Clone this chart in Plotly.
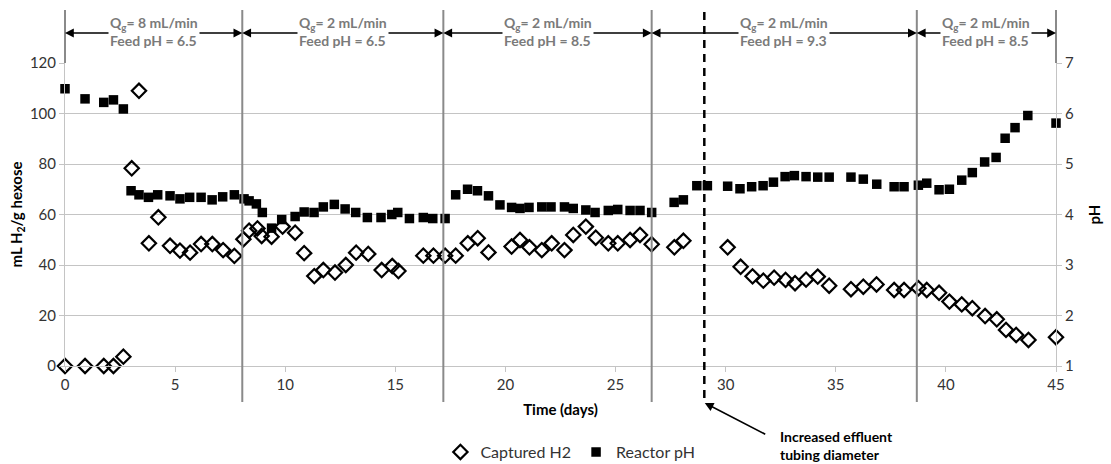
import plotly.graph_objects as go

# ---- data ----
h2_time = [0, 0.91, 1.76, 2.2, 2.65, 3.03, 3.36, 3.81, 4.24, 4.77, 5.22, 5.68, 6.18, 6.69, 7.18, 7.69,
           8.1, 8.36, 8.74, 8.93, 9.38, 9.88, 10.45, 10.86, 11.32, 11.73, 12.26, 12.75, 13.22, 13.77,
           14.38, 14.86, 15.14, 16.27, 16.73, 17.26, 17.74, 18.29, 18.74, 19.23, 20.28, 20.66, 21.09,
           21.65, 22.1, 22.68, 23.08, 23.65, 24.1, 24.67, 25.1, 25.66, 26.11, 26.64, 27.67, 28.08,
           30.09, 30.68, 31.22, 31.71, 32.2, 32.72, 33.15, 33.65, 34.18, 34.7, 35.69, 36.25, 36.85,
           37.65, 38.1, 38.75, 39.13, 39.69, 40.16, 40.72, 41.2, 41.78, 42.31, 42.73, 43.19, 43.75, 45.0]
h2_value = [0, 0, 0, 0, 3.7, 78.3, 109, 48.6, 58.9, 47.6, 45.7, 44.9, 48.3, 48.3, 45.9, 43.6,
            50.2, 53.6, 54.5, 51.5, 51.2, 55.2, 52.8, 44.7, 35.6, 38.0, 37.0, 40.0, 44.9, 44.4,
            38.0, 39.6, 37.6, 43.7, 43.7, 43.7, 43.7, 48.6, 50.6, 45.0, 47.3, 49.9, 47.0,
            45.9, 48.6, 45.9, 51.9, 55.2, 50.8, 48.6, 48.6, 49.9, 51.9, 48.2, 47.0, 49.6,
            47.0, 39.3, 35.5, 33.8, 35.0, 34.1, 32.8, 34.2, 35.4, 31.8, 30.4, 31.4, 32.3,
            30.1, 30.1, 30.8, 30.1, 29.0, 25.5, 24.4, 22.9, 19.8, 18.5, 14.3, 12.3, 10.3, 11.4]

ph_time = [0, 0.91, 1.76, 2.2, 2.65, 3.0, 3.36, 3.79, 4.21, 4.77, 5.22, 5.66, 6.18, 6.68, 7.16, 7.69,
           8.13, 8.36, 8.69, 8.96, 9.38, 9.84, 10.45, 10.86, 11.31, 11.73, 12.23, 12.72, 13.2, 13.73,
           14.35, 14.84, 15.11, 15.64, 16.27, 16.7, 17.26, 17.74, 18.28, 18.73, 19.23, 19.75, 20.28,
           20.66, 21.07, 21.65, 22.07, 22.68, 23.08, 23.65, 24.07, 24.67, 25.1, 25.66, 26.11, 26.64,
           27.66, 28.08, 28.69, 29.17, 30.09, 30.65, 31.18, 31.7, 32.17, 32.7, 33.12, 33.65, 34.18,
           34.7, 35.69, 36.25, 36.86, 37.65, 38.1, 38.75, 39.13, 39.69, 40.16, 40.72, 41.2, 41.76,
           42.28, 42.69, 43.14, 43.72, 45.0]
ph_value = [6.49, 6.29, 6.22, 6.27, 6.09, 4.47, 4.39, 4.34, 4.39, 4.37, 4.31, 4.34, 4.34, 4.29, 4.35, 4.39,
            4.31, 4.27, 4.21, 4.04, 3.73, 3.9, 3.96, 4.05, 4.04, 4.15, 4.2, 4.11, 4.04, 3.94,
            3.94, 4.0, 4.04, 3.92, 3.94, 3.92, 3.92, 4.39, 4.5, 4.47, 4.37, 4.19, 4.14,
            4.12, 4.14, 4.15, 4.15, 4.15, 4.12, 4.09, 4.04, 4.08, 4.1, 4.08, 4.08, 4.04,
            4.24, 4.29, 4.57, 4.57, 4.56, 4.51, 4.55, 4.57, 4.64, 4.75, 4.77, 4.75, 4.74,
            4.74, 4.74, 4.7, 4.6, 4.55, 4.55, 4.58, 4.62, 4.49, 4.5, 4.68, 4.83, 5.04,
            5.13, 5.51, 5.72, 5.96, 5.81]

period_bounds = [0, 8.05, 17.18, 26.64, 38.68, 45]
period_labels = ["Q<sub>g</sub>= 8 mL/min<br>Feed pH = 6.5",
                 "Q<sub>g</sub>= 2 mL/min<br>Feed pH = 6.5",
                 "Q<sub>g</sub>= 2 mL/min<br>Feed pH = 8.5",
                 "Q<sub>g</sub>= 2 mL/min<br>Feed pH = 9.3",
                 "Q<sub>g</sub>= 2 mL/min<br>Feed pH = 8.5"]
tubing_change_day = 29.03

FONT = "Lato"
GRID = "#c4c4c4"
LINEGRAY = "#8a8a8a"

fig = go.Figure()
fig.add_trace(go.Scatter(
    x=h2_time, y=h2_value, mode="markers", name="Captured H2",
    marker=dict(symbol="diamond-open", size=11, color="black", line=dict(width=2.2, color="black")),
    cliponaxis=False))
fig.add_trace(go.Scatter(
    x=ph_time, y=ph_value, mode="markers", name="Reactor pH", yaxis="y2",
    marker=dict(symbol="square", size=9.5, color="black"),
    cliponaxis=False))

shapes = []
for b in period_bounds[1:-1]:
    shapes.append(dict(type="line", xref="x", yref="paper", x0=b, x1=b, y0=-0.119, y1=1.175,
                       line=dict(color=LINEGRAY, width=2)))
for px in [0, 1]:
    shapes.append(dict(type="line", xref="paper", yref="paper", x0=px, x1=px, y0=1.0, y1=1.175,
                       line=dict(color=LINEGRAY, width=2)))
shapes.append(dict(type="line", xref="x", yref="paper", x0=tubing_change_day, x1=tubing_change_day,
                   y0=-0.106, y1=1.175, line=dict(color="black", width=2.5, dash="8px,6px")))

annotations = []
arrow_y = 1.099
for i in range(len(period_labels)):
    a, b = period_bounds[i], period_bounds[i + 1]
    mid = (a + b) / 2
    for tip in (a, b):
        annotations.append(dict(x=tip, y=arrow_y, xref="x", yref="paper", axref="x", ayref="pixel",
                                ax=mid, ay=0, text="", showarrow=True, arrowhead=2, arrowsize=1.1,
                                arrowwidth=1.6, arrowcolor="black", standoff=0, startstandoff=0))
for i in range(len(period_labels)):
    a, b = period_bounds[i], period_bounds[i + 1]
    mid = (a + b) / 2
    annotations.append(dict(x=mid, y=1.103, xref="x", yref="paper", yanchor="middle",
                            text=period_labels[i],
                            showarrow=False, bgcolor="white", borderpad=1, align="left",
                            font=dict(family=FONT, size=14, color="#7a7a7a", weight="bold")))
annotations.append(dict(x=tubing_change_day + 0.02, y=-0.122, xref="x", yref="paper", ax=62, ay=32,
                        axref="pixel", ayref="pixel", text="", showarrow=True, arrowhead=2,
                        arrowsize=1.1, arrowwidth=1.6, arrowcolor="black", standoff=0))
annotations.append(dict(x=32.38, y=-0.264, xref="x", yref="paper", xanchor="left", yanchor="middle",
                        text="Increased effluent<br>tubing diameter", showarrow=False, align="left",
                        font=dict(family=FONT, size=14, color="black", weight="bold")))

fig.update_layout(
    width=1111, height=464,
    margin=dict(l=65, r=55, t=63, b=98, autoexpand=False),
    paper_bgcolor="white", plot_bgcolor="white",
    font=dict(family=FONT, size=15, color="#333333"),
    showlegend=True,
    legend=dict(orientation="h", x=0.51, xanchor="center", y=-0.284, yanchor="middle",
                font=dict(family=FONT, size=16, color="#333333"), itemwidth=30,
                bgcolor="rgba(0,0,0,0)"),
    xaxis=dict(range=[0, 45], tickmode="linear", tick0=0, dtick=5, showgrid=False,
               showline=True, linecolor=GRID, linewidth=1, ticks="outside", ticklen=5,
               tickcolor=GRID, zeroline=False, automargin=False,
               title=dict(text="<b>Time (days)</b>", standoff=12,
                          font=dict(family=FONT, size=15, color="black"))),
    yaxis=dict(range=[0, 120], tickmode="linear", tick0=0, dtick=20, showgrid=True,
               gridcolor=GRID, gridwidth=1, showline=True, linecolor=GRID, ticks="outside",
               ticklen=5, tickcolor=GRID, zeroline=False, automargin=False,
               title=dict(text="<b>mL H<sub>2</sub>/g hexose</b>", standoff=3,
                          font=dict(family=FONT, size=15, color="black"))),
    yaxis2=dict(range=[1, 7], tickmode="linear", tick0=1, dtick=1, overlaying="y", side="right",
                showgrid=False, showline=True, linecolor=GRID, ticks="outside", ticklen=5,
                tickcolor=GRID, zeroline=False, automargin=False,
                title=dict(text="<b>pH</b>", standoff=16,
                           font=dict(family=FONT, size=15, color="black"))),
    shapes=shapes,
    annotations=annotations,
)

fig.write_html("out.html")
